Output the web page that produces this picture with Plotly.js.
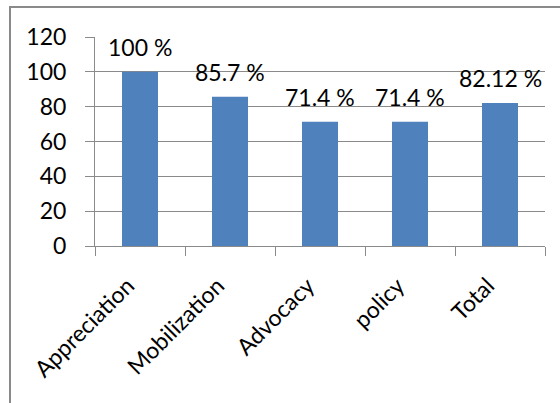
<!DOCTYPE html>
<html>
<head>
<meta charset="utf-8">
<script src="https://cdn.plot.ly/plotly-3.0.1.min.js"></script>
<style>
  html, body { margin: 0; padding: 0; background: #fff; }
  #wrap { position: relative; width: 560px; height: 403px; overflow: hidden; }
  #frame { position: absolute; left: 9px; top: 6px; width: 600px; height: 500px;
           border-left: 2px solid #8a8a8a; border-top: 2px solid #8a8a8a; pointer-events: none; }
  #chart { position: absolute; left: 0; top: 0; width: 560px; height: 403px; }
</style>
</head>
<body>
<div id="wrap">
  <div id="chart"></div>
  <div id="frame"></div>
</div>
<script>
// Share of each component, in percent
const categories = ["Appreciation", "Mobilization", "Advocacy", "policy", "Total"];
const values = [100, 85.7, 71.4, 71.4, 82.12];
const yTicks = [0, 20, 40, 60, 80, 100, 120];

const FONT = "Lato, 'Open Sans', sans-serif";
const FS = 23;
const GRID = "#8a8a8a";
// trailing gap pushes the slanted category names a little further from the axis
const LABEL_PAD = "\u2002\u00a0";

const bars = {
  type: "bar",
  x: categories,
  y: values,
  marker: { color: "#4F81BD" },
  hoverinfo: "x+y"
};

// Value labels above each bar
const labels = categories.map((c, i) => ({
  x: c,
  y: values[i],
  xref: "x",
  yref: "y",
  text: String(values[i]) + " %",
  showarrow: false,
  yanchor: "bottom",
  yshift: 9,
  font: { family: FONT, size: FS, color: "#000" }
}));

const layout = {
  width: 560,
  height: 403,
  margin: { l: 95, r: 15, t: 37, b: 157, pad: 0 },
  paper_bgcolor: "#fff",
  plot_bgcolor: "#fff",
  showlegend: false,
  bargap: 0.6,
  font: { family: FONT, size: FS, color: "#000" },
  xaxis: {
    type: "category",
    tickangle: -45,
    tickvals: categories,
    ticktext: categories.map(c => c + LABEL_PAD),
    showline: true,
    linecolor: GRID,
    linewidth: 1,
    ticks: "outside",
    tickson: "boundaries",
    ticklen: 9,
    tickcolor: GRID,
    showgrid: false,
    ticklabelstandoff: 4,
    tickfont: { family: FONT, size: FS, color: "#000" }
  },
  yaxis: {
    range: [0, 120],
    tickvals: yTicks,
    ticktext: yTicks.map(String),
    showline: true,
    linecolor: GRID,
    linewidth: 1,
    ticks: "outside",
    ticklen: 9,
    tickcolor: GRID,
    showgrid: true,
    gridcolor: GRID,
    gridwidth: 1,
    zeroline: false,
    ticklabelstandoff: 14,
    tickfont: { family: FONT, size: FS, color: "#000" }
  },
  annotations: labels
};

Plotly.newPlot("chart", [bars], layout, { staticPlot: true, displayModeBar: false });
</script>
</body>
</html>
